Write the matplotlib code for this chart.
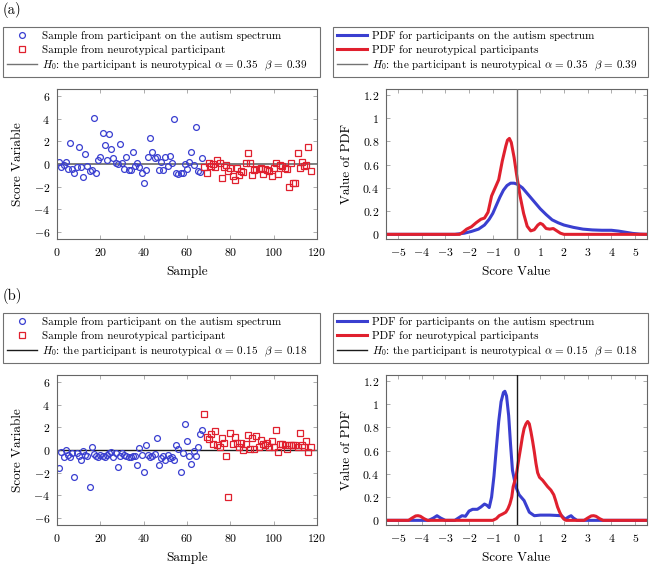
import matplotlib
matplotlib.use("Agg")
import matplotlib.pyplot as plt
from matplotlib.lines import Line2D
from matplotlib.ticker import FuncFormatter, MultipleLocator

plt.rcParams['font.family'] = ['cmr10', 'DejaVu Serif']
plt.rcParams['mathtext.fontset'] = 'cm'
plt.rcParams['axes.formatter.use_mathtext'] = True
plt.rcParams['axes.unicode_minus'] = True

# ---------------- data (a) ----------------
a_asd_x = list(range(1, 68))
a_asd_y = [0.2, -0.3, -0.1, 0.15, -0.45, 1.85, -0.45, -0.8, -0.25, 1.5,
           -0.3, -1.1, 0.9, -0.2, -0.65, -0.5, 4.05, -0.8, 0.35, 0.6,
           2.7, 1.65, 0.35, 2.6, 1.3, 0.55, 0.05, 0.0, 1.8, 0.1,
           -0.45, 0.65, -0.5, -0.5, 1.1, -0.15, 0.1, -0.3, -0.75, -1.65,
           -0.5, 0.65, 2.3, 1.1, 0.55, 0.65, -0.5, 0.15, -0.5, 0.6,
           -0.15, 0.7, 0.1, 3.95, -0.8, -0.9, -0.8, -0.75, 0.0, -0.4,
           0.2, 1.1, -0.1, 3.3, -0.65, -0.7, 0.5]
a_nt_x = list(range(68, 118))
a_nt_y = [-0.3, -0.8, 0.1, -0.2, 0.0, -0.25, 0.35, 0.05, -1.25, -0.25,
          -0.1, -0.6, -0.35, -1.05, -1.4, -0.35, -0.95, -0.65, -0.7, 0.1,
          0.95, 0.05, -1.0, -0.5, -0.4, -0.45, -0.35, -0.9, -0.4, -0.55,
          -0.65, -1.05, -0.35, 0.1, -0.9, -0.1, -0.15, -0.35, -0.45, -2.05,
          0.1, -1.65, -1.65, 1.0, -0.35, 0.2, -0.15, -0.1, 1.5, -0.6]

a_pdf_asd_x = [-5.5, -2.6, -2.2, -1.9, -1.6, -1.35, -1.15, -1.0, -0.85, -0.7,
               -0.55, -0.4, -0.25, -0.1, 0.05, 0.25, 0.5, 0.75, 1.0, 1.25,
               1.5, 1.75, 2.0, 2.4, 2.8, 3.2, 3.6, 4.0, 4.3, 4.6,
               4.9, 5.2, 5.5]
a_pdf_asd_y = [0, 0, 0.01, 0.025, 0.045, 0.08, 0.13, 0.18, 0.25, 0.32,
               0.38, 0.42, 0.44, 0.44, 0.43, 0.40, 0.34, 0.28, 0.22, 0.17,
               0.125, 0.10, 0.08, 0.06, 0.045, 0.038, 0.035, 0.035, 0.028, 0.018,
               0.008, 0.002, 0]
a_pdf_nt_x = [-5.5, -2.4, -2.25, -2.1, -1.9, -1.7, -1.5, -1.35, -1.2, -1.05,
              -0.9, -0.75, -0.6, -0.45, -0.38, -0.3, -0.22, -0.1, 0.0, 0.15,
              0.3, 0.45, 0.6, 0.75, 0.9, 1.0, 1.1, 1.25, 1.4, 1.55,
              1.7, 1.85, 2.0, 5.5]
a_pdf_nt_y = [0, 0, 0.02, 0.045, 0.065, 0.1, 0.13, 0.14, 0.19, 0.33,
              0.40, 0.47, 0.63, 0.76, 0.81, 0.825, 0.79, 0.66, 0.52, 0.33,
              0.18, 0.07, 0.03, 0.04, 0.08, 0.095, 0.085, 0.05, 0.045, 0.05,
              0.03, 0.01, 0.0, 0]

# ---------------- data (b) ----------------
b_asd_x = list(range(1, 68))
b_asd_y = [-1.6, -0.15, -0.6, 0.0, -0.4, -0.6, -0.25, -2.35, -0.25, -0.55,
           -0.9, -0.1, -0.45, -0.55, -3.25, 0.3, -0.35, -0.5, -0.6, -0.4,
           -0.5, -0.6, -0.4, -0.25, -0.15, -0.65, -0.25, -1.5, -0.55, -0.25,
           -0.4, -0.55, -0.6, -0.6, -0.55, -0.55, -1.3, 0.15, -0.45, -1.9,
           0.4, -0.4, -0.6, -0.5, -0.35, 1.1, -1.3, -0.7, -0.55, -0.9,
           -0.4, -0.7, -0.6, -0.9, 0.4, 0.05, -1.9, -0.25, 2.3, 0.75,
           -0.5, -1.25, -0.05, -0.55, 0.25, 1.45, 1.8]
b_nt_x = list(range(68, 118))
b_nt_y = [3.2, 1.15, 1.0, 1.45, 0.55, 1.65, 0.4, 0.25, 1.1, 0.65,
          -0.55, -4.15, 1.5, 0.55, 1.15, 0.65, 0.25, 0.65, 0.0, 0.55,
          1.35, 0.05, 1.05, 0.05, 1.25, 0.25, 0.9, 0.55, 0.4, 0.65,
          0.25, 0.8, 0.25, 1.75, -0.15, 0.55, 0.55, 0.45, 0.05, 0.45,
          0.45, 0.45, 0.45, 0.25, 1.5, 0.45, 0.25, 0.75, -0.15, 0.25]

b_pdf_asd_x = [-5.5, -3.7, -3.5, -3.35, -3.2, -3.0, -2.6, -2.45, -2.3, -2.15,
               -2.0, -1.85, -1.65, -1.5, -1.35, -1.25, -1.15, -1.05, -0.95, -0.85,
               -0.75, -0.65, -0.55, -0.49, -0.42, -0.33, -0.25, -0.17, -0.03, 0.11,
               0.32, 0.54, 0.75, 1.0, 1.4, 1.9, 2.05, 2.2, 2.3, 2.4,
               2.55, 5.5]
b_pdf_asd_y = [0, 0, 0.02, 0.04, 0.02, 0, 0, 0.02, 0.04, 0.035,
               0.08, 0.095, 0.095, 0.115, 0.14, 0.13, 0.11, 0.2, 0.38, 0.62,
               0.85, 1.02, 1.1, 1.11, 1.07, 0.9, 0.65, 0.43, 0.29, 0.22,
               0.17, 0.07, 0.04, 0.045, 0.045, 0.04, 0.01, 0.03, 0.04, 0.02,
               0, 0]
b_pdf_nt_x = [-5.5, -4.55, -4.4, -4.25, -4.15, -4.05, -3.9, -3.75, -1.0, -0.85,
              -0.73, -0.58, -0.45, -0.36, -0.28, -0.2, -0.14, -0.07, 0.0, 0.09,
              0.18, 0.25, 0.32, 0.4, 0.47, 0.54, 0.61, 0.68, 0.75, 0.82,
              0.89, 0.97, 1.1, 1.31, 1.45, 1.57, 1.65, 1.73, 1.82, 1.92,
              2.0, 2.09, 2.85, 3.0, 3.15, 3.25, 3.35, 3.5, 3.65, 5.5]
b_pdf_nt_y = [0, 0, 0.02, 0.038, 0.04, 0.035, 0.015, 0, 0, 0.015,
              0.04, 0.055, 0.07, 0.1, 0.14, 0.2, 0.29, 0.34, 0.4, 0.52,
              0.63, 0.72, 0.79, 0.83, 0.85, 0.83, 0.76, 0.68, 0.59, 0.49,
              0.41, 0.37, 0.345, 0.29, 0.26, 0.22, 0.17, 0.115, 0.07, 0.03,
              0.01, 0, 0, 0.02, 0.038, 0.04, 0.035, 0.015, 0, 0]

panels = [
    dict(tag='(a)', asd_x=a_asd_x, asd_y=a_asd_y, nt_x=a_nt_x, nt_y=a_nt_y,
         pax=a_pdf_asd_x, pay=a_pdf_asd_y, pnx=a_pdf_nt_x, pny=a_pdf_nt_y,
         alpha='0.35', beta='0.39', hcol='0.45', hlw=1.3),
    dict(tag='(b)', asd_x=b_asd_x, asd_y=b_asd_y, nt_x=b_nt_x, nt_y=b_nt_y,
         pax=b_pdf_asd_x, pay=b_pdf_asd_y, pnx=b_pdf_nt_x, pny=b_pdf_nt_y,
         alpha='0.15', beta='0.18', hcol='0.1', hlw=1.0),
]

BLUE = '#3a3fd0'
RED = '#e0202e'
SPINE = '0.4'
MS = 4.2
MEW = 0.9

W, H = 650, 569
fig = plt.figure(figsize=(W / 100, H / 100), dpi=100)


def fbox(l, t, r, b):
    return [l / W, 1 - b / H, (r - l) / W, (b - t) / H]


fmt = FuncFormatter(lambda v, p: f'${v:g}$')


def style(ax):
    for s in ax.spines.values():
        s.set_color(SPINE)
        s.set_linewidth(0.8)
    ax.tick_params(direction='in', length=3, width=0.5, color='0.55',
                   top=True, right=True, labelsize=8.5, pad=5)
    ax.xaxis.set_major_formatter(fmt)
    ax.yaxis.set_major_formatter(fmt)


LEGFS = 8
offsets = [0, 286]
for pnl, off in zip(panels, offsets):
    fig.text(3 / W, 1 - (10 + off) / H, pnl['tag'], fontsize=10.5, va='center', ha='left')

    ax1 = fig.add_axes(fbox(57, 89 + off, 317, 239 + off))
    ax1.plot(pnl['asd_x'], pnl['asd_y'], ls='none', marker='o', ms=MS,
             mfc='none', mec=BLUE, mew=MEW)
    ax1.plot(pnl['nt_x'], pnl['nt_y'], ls='none', marker='s', ms=MS,
             mfc='none', mec=RED, mew=MEW)
    ax1.axhline(0, color=pnl['hcol'], lw=pnl['hlw'], zorder=1)
    ax1.set_xlim(0, 120)
    ax1.set_ylim(-6.6, 6.6)
    ax1.xaxis.set_major_locator(MultipleLocator(20))
    ax1.yaxis.set_major_locator(MultipleLocator(2))
    style(ax1)
    ax1.set_xlabel('Sample', fontsize=9.5, labelpad=6)
    ax1.set_ylabel('Score Variable', fontsize=9.5, labelpad=7)

    ax2 = fig.add_axes(fbox(386, 89 + off, 647, 239 + off))
    ax2.plot(pnl['pax'], pnl['pay'], color=BLUE, lw=2.2, solid_joinstyle='round')
    ax2.plot(pnl['pnx'], pnl['pny'], color=RED, lw=2.2, solid_joinstyle='round')
    ax2.axvline(0, color=pnl['hcol'], lw=1.0, zorder=3)
    ax2.set_xlim(-5.5, 5.5)
    ax2.set_ylim(-0.04, 1.25)
    ax2.xaxis.set_major_locator(MultipleLocator(1))
    ax2.yaxis.set_major_locator(MultipleLocator(0.2))
    style(ax2)
    ax2.set_xlabel('Score Value', fontsize=9.5, labelpad=6)
    ax2.set_ylabel('Value of PDF', fontsize=9.5, labelpad=7)

    h0 = (r'$H_0$: the participant is neurotypical $\alpha\,=\,' + pnl['alpha'] +
          r'$  $\beta\,=\,' + pnl['beta'] + '$')
    hl = [Line2D([], [], ls='none', marker='o', ms=MS, mfc='none', mec=BLUE, mew=MEW),
          Line2D([], [], ls='none', marker='s', ms=MS, mfc='none', mec=RED, mew=MEW),
          Line2D([], [], color=pnl['hcol'], lw=1.0)]
    labs = ['Sample from participant on the autism spectrum',
            'Sample from neurotypical participant', h0]
    top = 27 + off
    leg1 = fig.legend(hl, labs, loc='upper left',
                      bbox_to_anchor=(3 / W, 1 - top / H, 317 / W, 0.0),
                      mode='expand', fontsize=LEGFS, frameon=True, fancybox=False,
                      edgecolor='0.3', borderaxespad=0, handlelength=2.7,
                      handletextpad=0.45, labelspacing=0.35, borderpad=0.35)
    leg1.get_frame().set_linewidth(0.8)

    hr = [Line2D([], [], color=BLUE, lw=2.2),
          Line2D([], [], color=RED, lw=2.2),
          Line2D([], [], color=pnl['hcol'], lw=1.0)]
    labr = ['PDF for participants on the autism spectrum',
            'PDF for neurotypical participants', h0]
    leg2 = fig.legend(hr, labr, loc='upper left',
                      bbox_to_anchor=(333 / W, 1 - top / H, 315 / W, 0.0),
                      mode='expand', fontsize=LEGFS, frameon=True, fancybox=False,
                      edgecolor='0.3', borderaxespad=0, handlelength=2.7,
                      handletextpad=0.45, labelspacing=0.35, borderpad=0.35)
    leg2.get_frame().set_linewidth(0.8)

fig.savefig('out.png', dpi=100)
